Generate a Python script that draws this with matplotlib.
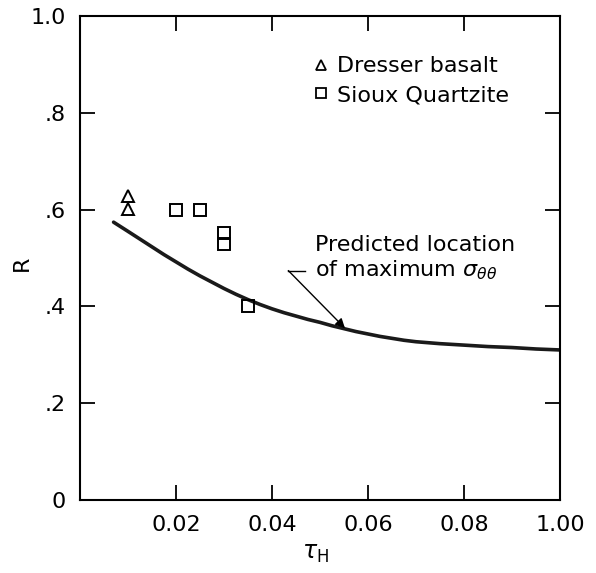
import matplotlib
matplotlib.use("Agg")
import matplotlib.pyplot as plt
from matplotlib.lines import Line2D

# Data
basalt_tau = [0.010, 0.010]
basalt_r = [0.628, 0.601]

quartzite_tau = [0.020, 0.025, 0.030, 0.030, 0.035]
quartzite_r = [0.600, 0.600, 0.552, 0.529, 0.400]

# predicted location of maximum hoop stress
curve_tau = [0.0070, 0.0100, 0.0125, 0.0150, 0.0175, 0.0200, 0.0225, 0.0250,
             0.0275, 0.0300, 0.0325, 0.0350, 0.0375, 0.0400, 0.0425, 0.0450,
             0.0475, 0.0500, 0.0525, 0.0550, 0.0575, 0.0600, 0.0625, 0.0650,
             0.0675, 0.0700, 0.0750, 0.0800, 0.0850, 0.0900, 0.0950, 0.1000]
curve_r = [0.574, 0.555, 0.539, 0.523, 0.507, 0.492, 0.477, 0.463,
           0.450, 0.437, 0.425, 0.414, 0.404, 0.395, 0.387, 0.380,
           0.373, 0.367, 0.360, 0.354, 0.348, 0.343, 0.338, 0.334,
           0.330, 0.327, 0.323, 0.320, 0.317, 0.315, 0.312, 0.310]

x_ticks = [0.02, 0.04, 0.06, 0.08, 0.10]
x_tick_labels = ["0.02", "0.04", "0.06", "0.08", "1.00"]
y_ticks = [0.0, 0.2, 0.4, 0.6, 0.8, 1.0]
y_tick_labels = ["0", ".2", ".4", ".6", ".8", "1.0"]

plt.rcParams['font.family'] = ['DejaVu Sans']

fig = plt.figure(figsize=(5.96, 5.73), dpi=100)
ax = fig.add_axes([0.1342, 0.1274, 0.8054, 0.8447])

ax.plot(curve_tau, curve_r, color='#1a1a1a', lw=2.6, solid_capstyle='round')

ax.plot(basalt_tau, basalt_r, ls='none', marker='^', ms=8, mfc='none',
        mec='black', mew=1.4)
ax.plot(quartzite_tau, quartzite_r, ls='none', marker='s', ms=8, mfc='none',
        mec='black', mew=1.4)

# legend
handles = [
    Line2D([], [], ls='none', marker='^', ms=6.5, mfc='none', mec='black', mew=1.3,
           label='Dresser basalt'),
    Line2D([], [], ls='none', marker='s', ms=6.5, mfc='none', mec='black', mew=1.3,
           label='Sioux Quartzite'),
]
ax.legend(handles=handles, loc='upper left', bbox_to_anchor=(0.47, 0.935),
          frameon=False, fontsize=16, handlelength=0.6, handletextpad=0.4,
          labelspacing=0.4, borderaxespad=0)

# annotation with leader line
ax.plot([0.0434, 0.0469], [0.474, 0.474], color='black', lw=1.0)
ax.annotate('', xy=(0.0552, 0.355), xytext=(0.0434, 0.474),
            arrowprops=dict(arrowstyle='-|>', color='black', lw=1.0,
                            mutation_scale=14, shrinkA=0, shrinkB=0))
ax.text(0.0489, 0.527, 'Predicted location', fontsize=16, va='center', ha='left')
ax.text(0.0489, 0.474, r'of maximum $\sigma_{\theta\theta}$', fontsize=16,
        va='center', ha='left')

ax.set_xlim(0, 0.10)
ax.set_ylim(0, 1.0)
ax.set_xticks(x_ticks)
ax.set_xticklabels(x_tick_labels)
ax.set_yticks(y_ticks)
ax.set_yticklabels(y_tick_labels)
ax.tick_params(direction='in', length=11, width=1.3, labelsize=16,
               top=True, right=True, pad=10)
ax.tick_params(axis='x', pad=11)
for s in ax.spines.values():
    s.set_linewidth(1.5)

ax.set_ylabel('R', fontsize=16)
ax.yaxis.set_label_coords(-0.10, 0.49)
ax.set_xlabel(r'$\tau_{\mathrm{H}}$', fontsize=17)
ax.xaxis.set_label_coords(0.49, -0.085)

fig.savefig('out.png', dpi=100, facecolor='white')
